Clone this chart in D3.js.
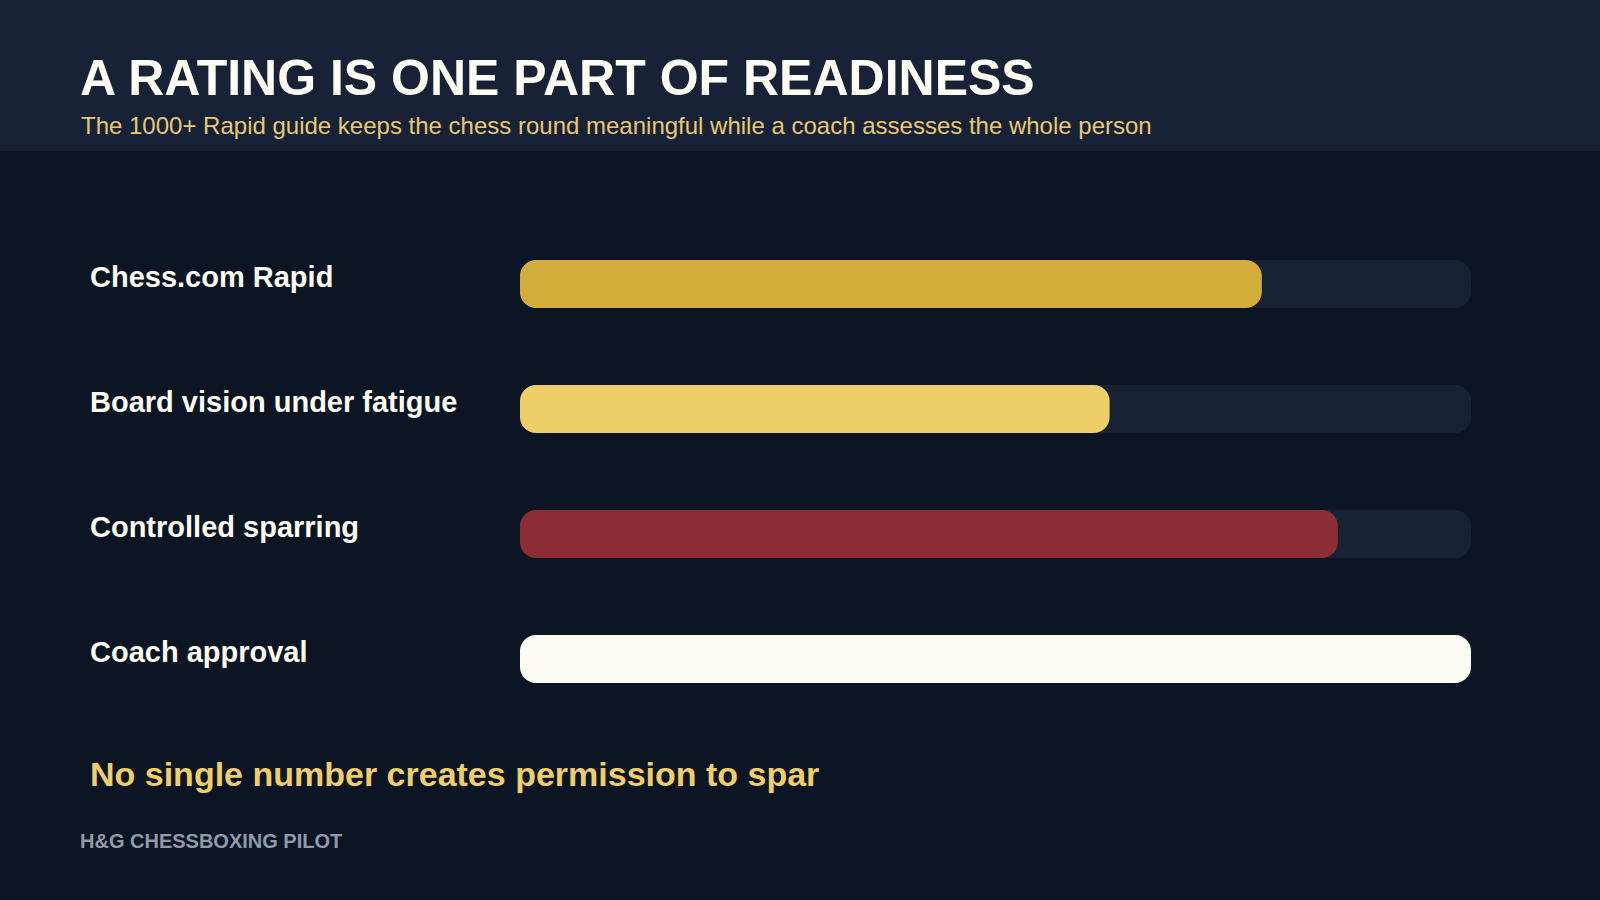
<!DOCTYPE html>
<html>
<head>
<meta charset="utf-8">
<script src="https://d3js.org/d3.v7.min.js"></script>
<style>
    html, body {
        width: 100%;
        height: 100%;
        margin: 0;
        padding: 0;
        background: #0c1523;
        overflow: hidden;
    }
    text {
        font-family: "Liberation Sans", Arial, sans-serif;
    }
</style>
</head>
<body>
<script>
    // chart data
    var categories = ["Chess.com Rapid", "Board vision under fatigue", "Controlled sparring", "Coach approval"];
    var values = [78, 62, 86, 100];
    var barColors = ["#d3ad3a", "#efcd69", "#8c2d35", "#fdfcf3"];
    var maxValue = 100;

    var width = 1600;
    var height = 900;

    var svg = d3.select("body").append("svg")
        .attr("width", width)
        .attr("height", height);

    // header band
    svg.append("rect")
        .attr("x", 0).attr("y", 0)
        .attr("width", width).attr("height", 151)
        .attr("fill", "#172236");

    svg.append("text")
        .attr("x", 80).attr("y", 95)
        .attr("fill", "#fdfcf3")
        .attr("font-size", 50)
        .attr("font-weight", "bold")
        .text("A RATING IS ONE PART OF READINESS");

    svg.append("text")
        .attr("x", 81).attr("y", 134)
        .attr("fill", "#e8c873")
        .attr("font-size", 24)
        .text("The 1000+ Rapid guide keeps the chess round meaningful while a coach assesses the whole person");

    var x = d3.scaleLinear()
        .domain([0, maxValue])
        .range([520, 1471]);

    // 48px bars on a 125px step
    var y = d3.scaleBand()
        .domain(categories)
        .range([260, 683])
        .paddingInner(0.616)
        .paddingOuter(0);

    var rows = svg.append("g").selectAll("g")
        .data(categories)
        .enter().append("g");

    // background track
    rows.append("rect")
        .attr("x", x(0))
        .attr("y", function (d) { return y(d); })
        .attr("width", x(maxValue) - x(0))
        .attr("height", y.bandwidth())
        .attr("rx", 16)
        .attr("fill", "#172335");

    // value bar
    rows.append("rect")
        .attr("x", x(0))
        .attr("y", function (d) { return y(d); })
        .attr("width", function (d, i) { return x(values[i]) - x(0); })
        .attr("height", y.bandwidth())
        .attr("rx", 16)
        .attr("fill", function (d, i) { return barColors[i]; });

    rows.append("text")
        .attr("x", 90)
        .attr("y", function (d) { return y(d) + 27; })
        .attr("fill", "#fdfcf3")
        .attr("font-size", 29)
        .attr("font-weight", "bold")
        .text(function (d) { return d; });

    svg.append("text")
        .attr("x", 90).attr("y", 786)
        .attr("fill", "#efcd69")
        .attr("font-size", 34)
        .attr("font-weight", "bold")
        .text("No single number creates permission to spar");

    svg.append("text")
        .attr("x", 80).attr("y", 848)
        .attr("fill", "#8f9aab")
        .attr("font-size", 20)
        .attr("font-weight", "bold")
        .text("H&G CHESSBOXING PILOT");
</script>
</body>
</html>
